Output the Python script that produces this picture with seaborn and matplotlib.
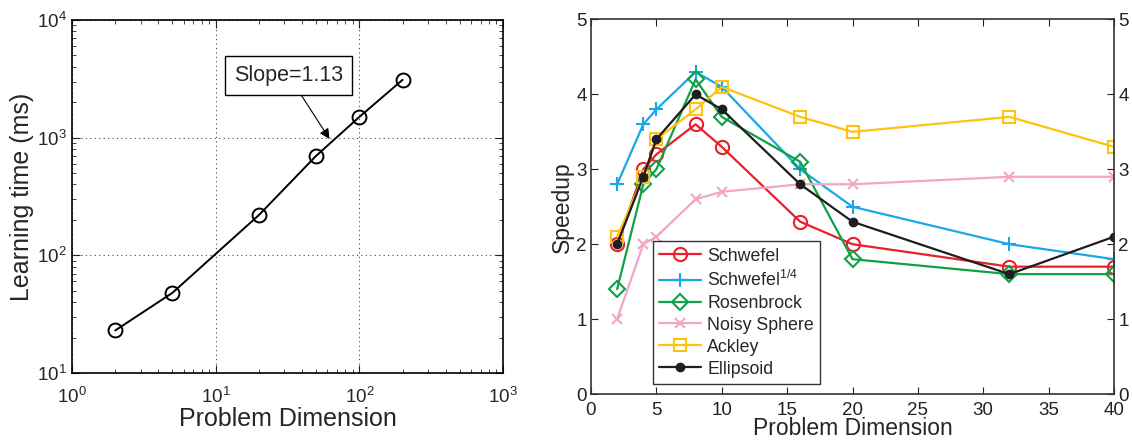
import numpy as np
import pandas as pd
import matplotlib
matplotlib.use("Agg")
import matplotlib.pyplot as plt
import seaborn as sns

# ---- data ----
left_dims = [2, 5, 20, 50, 100, 200]
left_times = [23, 48, 220, 700, 1500, 3100]

dims = [2, 4, 5, 8, 10, 16, 20, 32, 40]
schwefel = [2.0, 3.0, 3.2, 3.6, 3.3, 2.3, 2.0, 1.7, 1.7]
schwefel14 = [2.8, 3.6, 3.8, 4.3, 4.1, 3.0, 2.5, 2.0, 1.8]
rosenbrock = [1.4, 2.8, 3.0, 4.2, 3.7, 3.1, 1.8, 1.6, 1.6]
noisy_sphere = [1.0, 2.0, 2.1, 2.6, 2.7, 2.8, 2.8, 2.9, 2.9]
ackley = [2.1, 2.9, 3.4, 3.8, 4.1, 3.7, 3.5, 3.7, 3.3]
ellipsoid = [2.0, 2.9, 3.4, 4.0, 3.8, 2.8, 2.3, 1.6, 2.1]
series_names = ["Schwefel", "Schwefel$^{1/4}$", "Rosenbrock", "Noisy Sphere", "Ackley", "Ellipsoid"]
series_values = [schwefel, schwefel14, rosenbrock, noisy_sphere, ackley, ellipsoid]

sns.set_style("ticks")
plt.rcParams['font.family'] = ['Liberation Sans', 'DejaVu Sans']
plt.rcParams['mathtext.fontset'] = 'custom'
plt.rcParams['mathtext.rm'] = 'Liberation Sans'
plt.rcParams['mathtext.it'] = 'Liberation Sans'

fig = plt.figure(figsize=(11.32, 4.44), dpi=100)
W, H = 1132, 444
ax1 = fig.add_axes([72 / W, 1 - 373 / H, (503 - 72) / W, (373 - 20) / H])
ax2 = fig.add_axes([591 / W, 1 - 394 / H, (1114 - 591) / W, (394 - 19.5) / H])

# ---- left plot ----
dfl = pd.DataFrame({"dim": left_dims, "time": left_times})
sns.lineplot(data=dfl, x="dim", y="time", ax=ax1, color="black", lw=1.4,
             marker="o", markersize=10, markerfacecolor="none",
             markeredgecolor="black", markeredgewidth=1.4)
ax1.set_xscale("log")
ax1.set_yscale("log")
ax1.set_xlim(1, 1000)
ax1.set_ylim(10, 10000)
ax1.grid(True, which="major", linestyle=(0, (1, 3)), color="#444444", lw=0.8)
ax1.tick_params(which="both", direction="in", top=True, right=True, labelsize=13.5)
ax1.tick_params(which="major", length=6)
ax1.tick_params(which="minor", length=3)
ax1.tick_params(axis="x", pad=10)
ax1.set_xlabel("Problem Dimension", fontsize=18, labelpad=0)
ax1.set_ylabel("Learning time (ms)", fontsize=18, labelpad=2)
for s in ax1.spines.values():
    s.set_linewidth(1.2)
    s.set_color("black")
ax1.annotate("Slope=1.13", xy=(62, 975), xytext=(32.2, 3373), fontsize=15.5,
             ha="center", va="center",
             bbox=dict(boxstyle="square,pad=0.42", fc="white", ec="black", lw=1),
             arrowprops=dict(arrowstyle="-|>", color="black", lw=0.8,
                             mutation_scale=15, shrinkA=0, shrinkB=0))

# ---- right plot ----
colors = ["#E8202A", "#19A7E6", "#10A046", "#F2A6C6", "#FFC20E", "#1E1E1E"]
markers = ["o", "+", "D", "x", "s", "o"]
msizes = [9.5, 10, 8.5, 7, 8.5, 5.5]
for name, vals, c, m, ms in zip(series_names, series_values, colors, markers, msizes):
    df = pd.DataFrame({"dim": dims, "speedup": vals})
    filled = name == "Ellipsoid"
    kw = dict(markerfacecolor=c if filled else "none", markeredgecolor=c)
    sns.lineplot(data=df, x="dim", y="speedup", ax=ax2, color=c, lw=1.6,
                 marker=m, markersize=ms, markeredgewidth=1.5, label=name, **kw)
ax2.set_xlim(0, 40)
ax2.set_ylim(0, 5)
ax2.set_xticks(range(0, 41, 5))
ax2.set_yticks(range(0, 6))
ax2.tick_params(direction="in", top=True, right=True, labelright=True,
                labelsize=13.5, length=5, colors="#222222", pad=3)
ax2.tick_params(axis="x", pad=6)
ax2.set_xlabel("Problem Dimension", fontsize=16.5, labelpad=-1.5)
ax2.set_ylabel("Speedup", fontsize=16.5, labelpad=2)
for s in ax2.spines.values():
    s.set_linewidth(1.2)
    s.set_color("#333333")
leg = ax2.legend(loc="lower left", bbox_to_anchor=(0.1186, 0.027), borderaxespad=0,
                 fontsize=12.8, frameon=True, fancybox=False, edgecolor="black",
                 handlelength=2.35, labelspacing=0.28, borderpad=0.35, handletextpad=0.35)
leg.get_frame().set_linewidth(1.0)

fig.savefig("out.png", dpi=100)
